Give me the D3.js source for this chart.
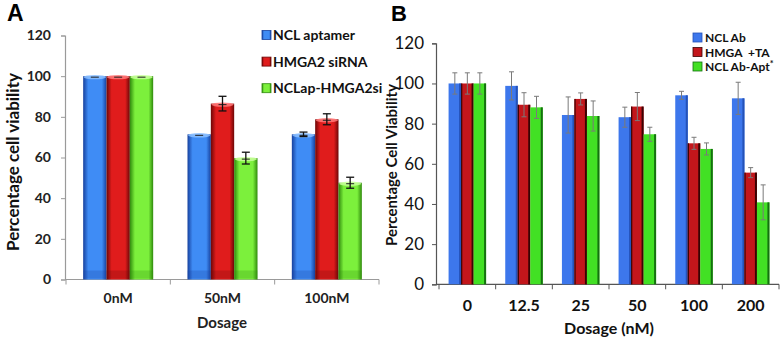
<!DOCTYPE html>
<html><head><meta charset="utf-8">
<script src="https://cdn.jsdelivr.net/npm/d3@7"></script>
<style>body{margin:0;background:#fff} svg{display:block} text{font-family:Lato,"Open Sans",sans-serif}</style>
</head><body>
<svg id="c" width="782" height="341"></svg>
<script>
// ---------- Panel A data ----------
const catsA = ["0nM", "50nM", "100nM"];
const seriesA = ["NCL aptamer", "HMGA2 siRNA", "NCLap-HMGA2si"];
const valsA_ncl = [100, 71.4, 71.4];
const valsA_hmga = [100, 86.5, 78.8];
const valsA_combo = [100, 59.7, 47.6];
const errA_ncl = [0.3, 0.4, 1.1];
const errA_hmga = [0.3, 3.6, 2.7];
const errA_combo = [0.3, 2.9, 2.7];
const ticksA = [0, 20, 40, 60, 80, 100, 120];

// ---------- Panel B data ----------
const catsB = ["0", "12.5", "25", "50", "100", "200"];
const seriesB = ["NCL Ab", "HMGA  +TA", "NCL Ab-Apt"];
const valsB_ab = [100, 98.8, 84.3, 83.2, 94.1, 92.6];
const valsB_hmga = [100, 89.4, 92.3, 88.5, 70.2, 55.6];
const valsB_apt = [100, 88.1, 83.8, 74.7, 67.4, 40.8];
const errB_ab = [5.3, 7, 9, 5, 2, 8];
const errB_hmga = [5.3, 6, 3, 7, 3, 2.5];
const errB_apt = [5.3, 5.5, 7.5, 3.5, 3, 8.7];
const ticksB = [0, 20, 40, 60, 80, 100, 120];

const svg = d3.select("#c");
const defs = svg.append("defs");

// ---------- Panel A ----------
const colA = [
  {edge: "#17419e", mid: "#3f8cf5", light: "#8cc0ff"},
  {edge: "#6d0606", mid: "#e01c1c", light: "#ff7a7a"},
  {edge: "#2f8a0c", mid: "#7cf03c", light: "#c8ff9a"}
];
colA.forEach((c, i) => {
  const g = defs.append("linearGradient").attr("id", "gA" + i).attr("x1", 0).attr("x2", 1).attr("y1", 0).attr("y2", 0);
  g.append("stop").attr("offset", "0%").attr("stop-color", c.edge);
  g.append("stop").attr("offset", "22%").attr("stop-color", c.mid);
  g.append("stop").attr("offset", "45%").attr("stop-color", c.mid);
  g.append("stop").attr("offset", "80%").attr("stop-color", c.mid);
  g.append("stop").attr("offset", "100%").attr("stop-color", c.edge);
});

const dataA = catsA.map((c, i) => ({
  cat: c,
  vals: [valsA_ncl[i], valsA_hmga[i], valsA_combo[i]],
  errs: [errA_ncl[i], errA_hmga[i], errA_combo[i]]
}));

const yA = d3.scaleLinear().domain([0, 120]).range([279.5, 35.5]);
const xA0 = d3.scaleBand().domain(catsA).range([66, 379]);
const groupA = 70;
const xA1 = d3.scaleBand().domain(seriesA).range([0, groupA]);
const offA = (xA0.bandwidth() - groupA) / 2;

const gA = svg.append("g");
const axA = gA.append("g").attr("transform", "translate(65,0)")
  .call(d3.axisLeft(yA).tickValues(ticksA).tickSize(4).tickPadding(10));
axA.select(".domain").attr("stroke", "#9a9a9a").attr("stroke-width", 1.2);
axA.selectAll(".tick line").attr("stroke", "#9a9a9a");
axA.selectAll(".tick text").attr("font-size", 14).attr("font-weight", "bold").attr("fill", "#222");
gA.append("line").attr("x1", 65).attr("x2", 379).attr("y1", yA(0)).attr("y2", yA(0)).attr("stroke", "#9a9a9a").attr("stroke-width", 1.2);
gA.selectAll(".xtA").data(d3.range(catsA.length + 1)).join("line")
  .attr("x1", i => xA0.range()[0] + i * xA0.step()).attr("x2", i => xA0.range()[0] + i * xA0.step())
  .attr("y1", yA(0)).attr("y2", yA(0) + 5).attr("stroke", "#9a9a9a");
gA.selectAll(".xlA").data(catsA).join("text")
  .attr("x", d => xA0(d) + xA0.bandwidth() / 2).attr("y", 303)
  .attr("text-anchor", "middle").attr("font-size", 14).attr("font-weight", "bold").attr("fill", "#222").text(d => d);
gA.append("text").attr("x", 222).attr("y", 328).attr("text-anchor", "middle")
  .attr("font-size", 15).attr("font-weight", "bold").attr("fill", "#222").text("Dosage");
gA.append("text").attr("transform", "translate(19,162) rotate(-90)").attr("text-anchor", "middle")
  .attr("font-size", 17).attr("font-weight", "bold").attr("fill", "#111").text("Percentage cell viability");
gA.append("text").attr("x", 7).attr("y", 21).attr("font-size", 23).attr("font-weight", "bold")
  .style("font-family", "'Liberation Sans',Arial,sans-serif").text("A");

const grpA = gA.selectAll(".grpA").data(dataA).join("g")
  .attr("transform", d => `translate(${xA0(d.cat) + offA},0)`);
grpA.each(function(d) {
  const g = d3.select(this);
  seriesA.forEach((s, j) => {
    const x = xA1(s), w = xA1.bandwidth(), v = d.vals[j];
    g.append("rect").attr("x", x).attr("y", yA(v)).attr("width", w).attr("height", yA(0) - yA(v))
      .attr("fill", `url(#gA${j})`);
    g.append("rect").attr("x", x).attr("y", yA(0) - 9).attr("width", w).attr("height", 8)
      .attr("fill", colA[j].edge).attr("opacity", 0.25);
    g.append("ellipse").attr("cx", x + w / 2).attr("cy", yA(v) + 1).attr("rx", w / 2 - 0.5).attr("ry", 2.2)
      .attr("fill", colA[j].light).attr("opacity", 0.85);
    g.append("line").attr("x1", x + w / 2 - 4).attr("x2", x + w / 2 + 4).attr("y1", yA(v) + 1).attr("y2", yA(v) + 1)
      .attr("stroke", "#222").attr("stroke-width", 1);
    const e = d.errs[j];
    if (e > 0.5) {
      const cx = x + w / 2;
      g.append("line").attr("x1", cx).attr("x2", cx).attr("y1", yA(v + e)).attr("y2", yA(v - e)).attr("stroke", "#111").attr("stroke-width", 1.3);
      [v + e, v - e].forEach(t => g.append("line").attr("x1", cx - 4).attr("x2", cx + 4).attr("y1", yA(t)).attr("y2", yA(t)).attr("stroke", "#111").attr("stroke-width", 1.3));
    }
  });
});

const legA = gA.selectAll(".legA").data(seriesA).join("g")
  .attr("transform", (d, i) => `translate(262,${35 + i * 26.6})`);
legA.append("rect").attr("x", 0).attr("y", -4.5).attr("width", 9).attr("height", 9).attr("fill", (d, i) => `url(#gA${i})`)
  .attr("stroke", (d, i) => colA[i].edge).attr("stroke-width", 0.8);
legA.append("text").attr("x", 11).attr("y", 5).attr("font-size", 14).attr("font-weight", "bold").attr("fill", "#111").text(d => d);

// ---------- Panel B ----------
const colB = [
  {fill: "#3d77ec", edge: "#2452b8"},
  {fill: "#c3161b", edge: "#3a0303"},
  {fill: "#42e024", edge: "#157010"}
];
const dataB = catsB.map((c, i) => ({
  cat: c,
  vals: [valsB_ab[i], valsB_hmga[i], valsB_apt[i]],
  errs: [errB_ab[i], errB_hmga[i], errB_apt[i]]
}));
const yB = d3.scaleLinear().domain([0, 120]).range([284.3, 43.3]);
const xB0 = d3.scaleBand().domain(catsB).range([439, 779]);
const groupB = 37.5;
const xB1 = d3.scaleBand().domain(seriesB).range([0, groupB]);
const offB = (xB0.bandwidth() - groupB) / 2;

const gB = svg.append("g");
const axB = gB.append("g").attr("transform", "translate(436,0)")
  .call(d3.axisLeft(yB).tickValues(ticksB).tickSize(4).tickPadding(8));
axB.select(".domain").attr("stroke", "#555").attr("stroke-width", 1.2);
axB.selectAll(".tick line").attr("stroke", "#555");
axB.selectAll(".tick text").attr("font-size", 17).attr("fill", "#111");
gB.append("line").attr("x1", 436).attr("x2", 779).attr("y1", yB(0)).attr("y2", yB(0)).attr("stroke", "#555").attr("stroke-width", 1.2);
gB.selectAll(".xtB").data(d3.range(catsB.length + 1)).join("line")
  .attr("x1", i => xB0.range()[0] + i * xB0.step()).attr("x2", i => xB0.range()[0] + i * xB0.step())
  .attr("y1", yB(0)).attr("y2", yB(0) + 5).attr("stroke", "#555");
gB.selectAll(".xlB").data(catsB).join("text")
  .attr("x", d => xB0(d) + xB0.bandwidth() / 2).attr("y", 311)
  .attr("text-anchor", "middle").attr("font-size", 16).attr("font-weight", "bold").attr("fill", "#111").text(d => d);
gB.append("text").attr("x", 609).attr("y", 334).attr("text-anchor", "middle")
  .attr("font-size", 16).attr("font-weight", "bold").attr("fill", "#111").text("Dosage (nM)");
gB.append("text").attr("transform", "translate(397,165) rotate(-90)").attr("text-anchor", "middle")
  .attr("font-size", 15).attr("font-weight", "bold").attr("fill", "#111").text("Percentage Cell Viability");
gB.append("text").attr("x", 391).attr("y", 21).attr("font-size", 22).attr("font-weight", "bold")
  .style("font-family", "'Liberation Sans',Arial,sans-serif").text("B");

const grpB = gB.selectAll(".grpB").data(dataB).join("g")
  .attr("transform", d => `translate(${xB0(d.cat) + offB},0)`);
grpB.each(function(d) {
  const g = d3.select(this);
  seriesB.forEach((s, j) => {
    const x = xB1(s), w = xB1.bandwidth(), v = d.vals[j];
    g.append("rect").attr("x", x).attr("y", yB(v)).attr("width", w).attr("height", yB(0) - yB(v)).attr("fill", colB[j].fill);
    g.append("rect").attr("x", x + w - 2).attr("y", yB(v)).attr("width", 2).attr("height", yB(0) - yB(v)).attr("fill", colB[j].edge);
    if (j === 1) g.append("rect").attr("x", x).attr("y", yB(v)).attr("width", 1.2).attr("height", yB(0) - yB(v)).attr("fill", colB[j].edge);
    const e = d.errs[j], cx = x + w / 2;
    g.append("line").attr("x1", cx).attr("x2", cx).attr("y1", yB(v + e)).attr("y2", yB(v - e)).attr("stroke", "#7a7a7a").attr("stroke-width", 1);
    [v + e, v - e].forEach(t => g.append("line").attr("x1", cx - 2.5).attr("x2", cx + 2.5).attr("y1", yB(t)).attr("y2", yB(t)).attr("stroke", "#7a7a7a").attr("stroke-width", 1));
  });
});

const legB = gB.selectAll(".legB").data(seriesB).join("g")
  .attr("transform", (d, i) => `translate(693,${37.5 + i * 14.5})`);
legB.append("rect").attr("x", 0).attr("y", -4.5).attr("width", 9).attr("height", 9).attr("fill", (d, i) => colB[i].fill)
  .attr("stroke", (d, i) => colB[i].edge).attr("stroke-width", 0.8);
legB.append("text").attr("x", 12).attr("y", 4.5).attr("font-size", 12).attr("font-weight", "bold").attr("fill", "#111")
  .style("white-space", "pre").text(d => d)
  .filter((d, i) => i === 2).append("tspan").attr("dy", -4).attr("font-size", 9).text("*");
</script>
</body></html>
